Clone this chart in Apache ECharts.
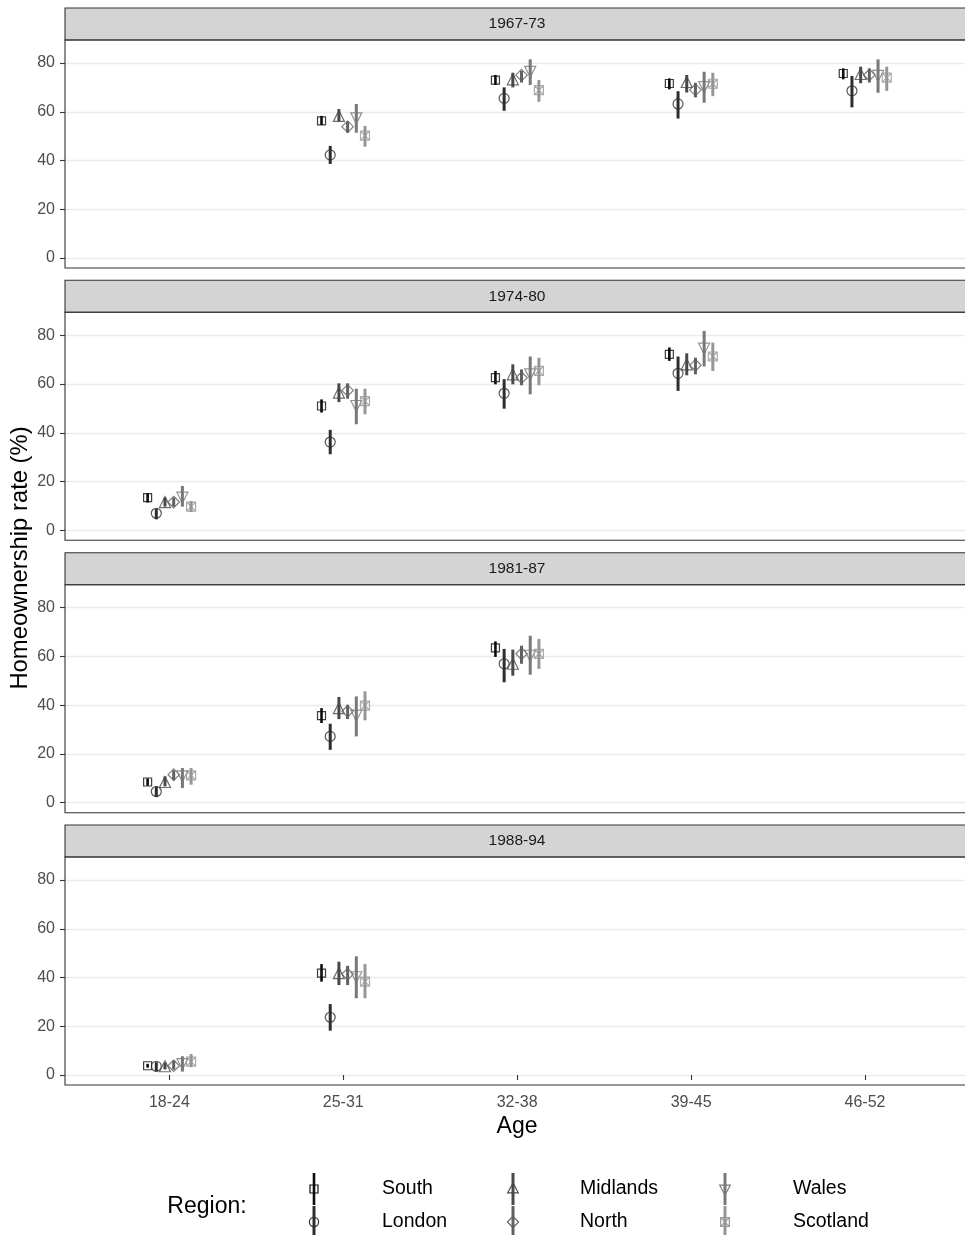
<!DOCTYPE html>
<html>
<head>
<meta charset="utf-8">
<script src="https://cdn.jsdelivr.net/npm/echarts@6/dist/echarts.min.js"></script>
<style>
  html, body { margin: 0; padding: 0; background: #ffffff; }
  #chart { width: 965px; height: 1235px; }
</style>
</head>
<body>
<div id="chart"></div>
<script>
// ---------------- DATA ----------------
const categories = ['18-24', '25-31', '32-38', '39-45', '46-52'];
const periods = ['1967-73', '1974-80', '1981-87', '1988-94'];
const regions = ['South', 'London', 'Midlands', 'North', 'Wales', 'Scotland'];
const yTicks = [0, 20, 40, 60, 80];

// each row = one period; each entry = [estimate, lower, upper] per age category (null = no data)
const south = [
  [null, [56.3, 54.6, 58.3], [73.0, 71.0, 75.1], [71.6, 69.2, 73.7], [75.7, 73.3, 77.8]],
  [[13.4, 11.4, 15.2], [51.0, 48.3, 53.7], [62.6, 59.9, 65.4], [72.2, 69.5, 75.0], null],
  [[8.5, 7.0, 10.0], [35.7, 32.7, 38.8], [63.5, 59.8, 66.2], null, null],
  [[3.8, 3.0, 4.6], [41.8, 38.3, 45.5], null, null, null]
];
const london = [
  [null, [42.3, 38.6, 46.0], [65.5, 60.4, 70.0], [63.2, 57.2, 68.4], [68.6, 61.8, 74.7]],
  [[7.0, 4.5, 8.9], [36.2, 31.2, 41.2], [56.2, 49.9, 62.0], [64.4, 57.2, 71.3], null],
  [[4.6, 2.3, 6.7], [27.2, 21.7, 32.4], [57.0, 49.4, 63.1], null, null],
  [[3.6, 1.4, 5.3], [23.7, 18.2, 29.1], null, null, null]
];
const midlands = [
  [null, [58.3, 56.0, 61.1], [73.3, 70.0, 76.0], [72.2, 67.9, 75.1], [75.5, 71.7, 78.5]],
  [[11.6, 9.7, 13.4], [56.5, 52.6, 60.3], [64.0, 59.9, 68.1], [68.1, 63.6, 72.6], null],
  [[8.5, 6.7, 10.8], [38.8, 34.3, 43.4], [57.0, 52.1, 62.8], null, null],
  [[3.6, 2.3, 5.0], [41.8, 36.9, 46.5], null, null, null]
];
const north = [
  [null, [53.9, 51.4, 56.0], [75.0, 72.0, 76.8], [69.0, 65.9, 71.9], [75.1, 72.0, 77.8]],
  [[11.6, 9.7, 13.4], [57.4, 54.0, 60.3], [62.6, 59.5, 66.0], [67.7, 64.0, 70.8], null],
  [[11.5, 9.2, 13.3], [37.5, 34.3, 40.2], [61.1, 57.0, 64.4], null, null],
  [[3.8, 2.2, 5.9], [41.4, 36.9, 44.8], null, null, null]
];
const wales = [
  [null, [57.3, 51.4, 63.2], [76.4, 71.0, 81.5], [70.1, 63.7, 76.4], [74.7, 67.8, 81.5]],
  [[13.4, 9.7, 18.2], [51.0, 43.5, 58.1], [64.0, 55.8, 71.3], [74.5, 67.2, 81.8], null],
  [[10.8, 6.0, 14.2], [35.7, 27.2, 43.6], [60.3, 52.5, 68.5], null, null],
  [[4.5, 1.4, 7.7], [40.1, 31.5, 48.7], null, null, null]
];
const scotland = [
  [null, [50.2, 45.7, 54.2], [68.9, 64.1, 73.0], [71.5, 66.4, 76.0], [74.0, 68.6, 78.5]],
  [[9.7, 7.5, 12.0], [53.0, 47.6, 58.1], [65.4, 59.5, 70.8], [71.3, 65.4, 77.0], null],
  [[11.2, 7.4, 14.2], [39.8, 33.8, 45.7], [61.1, 54.9, 67.2], null, null],
  [[5.5, 3.2, 8.6], [38.3, 31.5, 45.5], null, null, null]
];
const regionData = [south, london, midlands, north, wales, scotland];

// ---------------- STYLE ----------------
const FONT = '"Liberation Sans", Arial, Helvetica, sans-serif';
const colors = ['#0d0d0d', '#2e2e2e', '#484848', '#616161', '#787878', '#969696'];
const barWidths = [2.6, 3, 3, 3, 3, 3];
const SQX = 'path://M0 0H10V10H0Z M0 0L10 10 M10 0L0 10';
const symbols = [
  { symbol: 'rect', size: 8, rotate: 0 },
  { symbol: 'circle', size: 10, rotate: 0 },
  { symbol: 'triangle', size: 11, rotate: 0 },
  { symbol: 'diamond', size: 11.5, rotate: 0 },
  { symbol: 'triangle', size: 11, rotate: 180 },
  { symbol: SQX, size: 9, rotate: 0 }
];
const dodgeStep = 0.05;

const gridLeft = 65, gridHeight = 228, stripH = 32, panelDrawW = 915;
const gridTops = [40, 312.3, 584.7, 857];
const xMin = 0.4, xMax = 5.575, yMin = -4.1, yMax = 89.44;

const grids = [], xAxes = [], yAxes = [], series = [], graphics = [];

periods.forEach((p, pi) => {
  const isBottom = pi === periods.length - 1;
  grids.push({ left: gridLeft, top: gridTops[pi], right: 0, height: gridHeight, show: false });
  xAxes.push({
    type: 'value', gridIndex: pi, min: xMin, max: xMax,
    axisLine: { show: false },
    splitLine: { show: false },
    axisTick: { show: isBottom, customValues: [1, 2, 3, 4, 5], length: 5, lineStyle: { color: '#333333', width: 1.1 } },
    axisLabel: {
      show: isBottom, customValues: [1, 2, 3, 4, 5], margin: 10,
      color: '#4d4d4d', fontSize: 16, fontFamily: FONT,
      formatter: v => categories[Math.round(v) - 1] || ''
    }
  });
  yAxes.push({
    type: 'value', gridIndex: pi, min: yMin, max: yMax,
    axisLine: { show: false },
    splitLine: { show: true, lineStyle: { color: '#ebebeb', width: 1.3 } },
    axisTick: { show: true, customValues: yTicks, length: 5, lineStyle: { color: '#333333', width: 1.1 } },
    axisLabel: { customValues: yTicks, margin: 10, color: '#4d4d4d', fontSize: 16, fontFamily: FONT }
  });

  // panel border (drawn on top, extends past the right edge as in the reference)
  graphics.push({
    type: 'rect', silent: true, z: 20,
    shape: { x: gridLeft, y: gridTops[pi], width: panelDrawW, height: gridHeight },
    style: { fill: 'none', stroke: '#333333', lineWidth: 1.1 }
  });
  // strip
  graphics.push({
    type: 'rect', silent: true, z: 10,
    shape: { x: gridLeft, y: gridTops[pi] - stripH, width: panelDrawW, height: stripH },
    style: { fill: '#d4d4d4', stroke: '#333333', lineWidth: 1.1 }
  });
  graphics.push({
    type: 'text', silent: true, z: 11,
    x: 517, y: gridTops[pi] - stripH / 2,
    style: { text: p, fill: '#1a1a1a', fontSize: 15.5, fontFamily: FONT, align: 'center', verticalAlign: 'middle' }
  });

  regions.forEach((r, ri) => {
    const rows = [];
    regionData[ri][pi].forEach((v, ci) => {
      if (v) rows.push([ci + 1 + (ri - 2.5) * dodgeStep, v[0], v[1], v[2]]);
    });
    const col = colors[ri], lw = barWidths[ri];
    series.push({
      name: r, type: 'custom', xAxisIndex: pi, yAxisIndex: pi,
      data: rows, encode: { x: 0, y: [2, 3] }, silent: true, animation: false, z: 2,
      renderItem: (params, api) => {
        const x = api.value(0);
        const a = api.coord([x, api.value(2)]);
        const b = api.coord([x, api.value(3)]);
        return { type: 'line', shape: { x1: a[0], y1: a[1], x2: b[0], y2: b[1] },
                 style: { stroke: col, lineWidth: lw } };
      }
    });
    series.push({
      name: r, type: 'scatter', xAxisIndex: pi, yAxisIndex: pi,
      data: rows.map(d => [d[0], d[1]]), animation: false, silent: true, z: 3,
      symbol: symbols[ri].symbol, symbolSize: symbols[ri].size, symbolRotate: symbols[ri].rotate,
      itemStyle: { color: 'rgba(0,0,0,0)', borderColor: col, borderWidth: 1.2 }
    });
  });
});

// axis titles
graphics.push({
  type: 'text', silent: true, x: 20, y: 558, rotation: Math.PI / 2,
  style: { text: 'Homeownership rate (%)', fill: '#000000', fontSize: 23.8, fontFamily: FONT, align: 'center', verticalAlign: 'middle' }
});
graphics.push({
  type: 'text', silent: true, x: 517, y: 1127,
  style: { text: 'Age', fill: '#000000', fontSize: 23, fontFamily: FONT, align: 'center', verticalAlign: 'middle' }
});

// legend
graphics.push({
  type: 'text', silent: true, x: 207, y: 1207,
  style: { text: 'Region:', fill: '#000000', fontSize: 23, fontFamily: FONT, align: 'center', verticalAlign: 'middle' }
});
const keyX = [314, 513, 725], labelX = [382, 580, 793], rowY = [1189, 1222];
regions.forEach((r, ri) => {
  const c = Math.floor(ri / 2), rw = ri % 2;
  const kx = keyX[c], ky = rowY[rw], col = colors[ri];
  const st = { fill: 'none', stroke: col, lineWidth: 1.2 };
  graphics.push({ type: 'line', silent: true, shape: { x1: kx, y1: ky - 16, x2: kx, y2: ky + 16 },
                  style: { stroke: col, lineWidth: barWidths[ri] } });
  let shp;
  if (ri === 0) shp = { type: 'rect', shape: { x: kx - 4, y: ky - 4, width: 8, height: 8 }, style: st };
  else if (ri === 1) shp = { type: 'circle', shape: { cx: kx, cy: ky, r: 4.6 }, style: st };
  else if (ri === 2) shp = { type: 'polygon', shape: { points: [[kx, ky - 6], [kx + 5.3, ky + 3.8], [kx - 5.3, ky + 3.8]] }, style: st };
  else if (ri === 3) shp = { type: 'polygon', shape: { points: [[kx, ky - 5.6], [kx + 5.6, ky], [kx, ky + 5.6], [kx - 5.6, ky]] }, style: st };
  else if (ri === 4) shp = { type: 'polygon', shape: { points: [[kx, ky + 6], [kx + 5.3, ky - 3.8], [kx - 5.3, ky - 3.8]] }, style: st };
  else shp = { type: 'group', children: [
      { type: 'rect', shape: { x: kx - 4.3, y: ky - 4.3, width: 8.6, height: 8.6 }, style: st },
      { type: 'line', shape: { x1: kx - 4.3, y1: ky - 4.3, x2: kx + 4.3, y2: ky + 4.3 }, style: st },
      { type: 'line', shape: { x1: kx + 4.3, y1: ky - 4.3, x2: kx - 4.3, y2: ky + 4.3 }, style: st }
    ] };
  shp.silent = true;
  graphics.push(shp);
  graphics.push({
    type: 'text', silent: true, x: labelX[c], y: ky,
    style: { text: r, fill: '#000000', fontSize: 19.5, fontFamily: FONT, align: 'left', verticalAlign: 'middle' }
  });
});

const chart = echarts.init(document.getElementById('chart'), null, { renderer: 'canvas' });
chart.setOption({
  backgroundColor: '#ffffff',
  animation: false,
  grid: grids,
  xAxis: xAxes,
  yAxis: yAxes,
  series: series,
  graphic: graphics
});
</script>
</body>
</html>
